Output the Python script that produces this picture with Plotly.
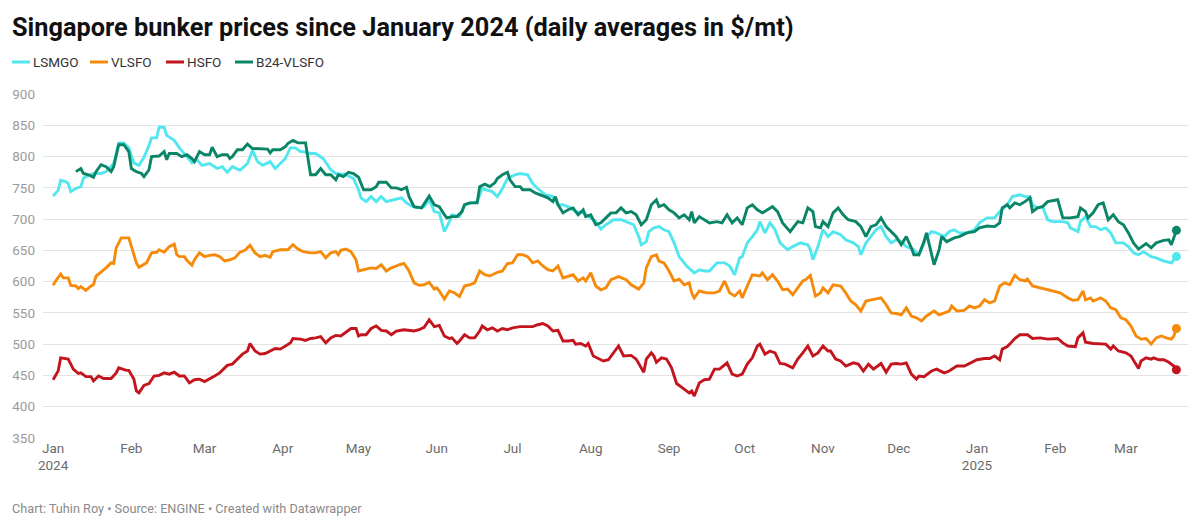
import pandas as pd
import plotly.graph_objects as go

BASE_DATE = "2024-01-01"

# ---- data (day offset from BASE_DATE, value in $/mt) ----
lsmgo_days = [0,2,3,5,6,7,9,11,12,13,16,19,21,24,26,28,30,32,34,36,38,39,41,42,44,45,48,50,53,55,57,59,62,65,67,69,71,74,77,79,81,83,86,88,90,92,94,96,98,
              99,102,104,107,110,112,116,119,121,122,124,126,128,130,132,135,138,140,142,144,147,149,151,153,155,157,158,161,163,166,168,170,172,174,176,178,180,183,185,188,190,192,195,198,200,202,205,207,210,213,215,217,219,222,225,227,230,232,233,235,236,238,240,242,244,246,248,251,254,256,258,260,263,266,268,270,272,273,275,277,279,280,282,284,286,288,291,293,296,299,300,301,303,305,307,309,312,314,317,319,320,322,324,326,328,330,332,334,336,338,341,343,344,346,348,350,353,355,357,359,362,365,367,370,373,375,378,380,383,385,387,388,390,392,394,396,400,402,403,406,407,409,411,413,415,417,419,421,424,426,428,430,432,435,437,440,443,444,445]
lsmgo_vals = [737,746,762,760,757,744,749,752,765,768,773,773,776,789,822,822,814,790,786,799,818,830,830,847,847,834,826,814,800,790,795,786,789,781,784,775,784,778,789,810,792,786,792,781,789,797,814,814,808,
              808,805,805,797,779,773,771,765,747,734,728,736,728,736,728,731,734,726,721,718,720,731,712,710,680,696,707,704,723,726,728,749,747,744,736,749,765,771,773,771,757,749,739,736,723,723,718,712,710,702,696,684,691,699,699,696,691,672,659,664,680,686,688,683,680,662,640,625,614,619,617,617,630,630,625,611,638,640,662,672,683,696,678,694,683,662,651,656,662,659,651,635,656,683,672,680,675,667,662,656,643,662,672,683,688,672,662,667,664,656,651,643,651,672,680,678,672,680,683,678,678,683,694,702,702,712,723,736,739,736,736,723,718,720,699,696,696,694,686,680,696,704,688,688,683,686,678,662,662,656,646,643,648,640,638,633,630,635,640]

vlsfo_days = [0,1,3,4,6,7,9,10,11,13,15,16,17,19,21,23,24,25,27,30,31,33,34,36,37,39,41,42,44,46,48,49,50,52,53,55,56,58,60,62,64,66,68,70,72,74,76,78,80,82,84,86,87,90,93,95,97,99,102,104,106,108,110,112,113,114,116,118,120,121,123,126,128,130,132,134,136,137,139,141,143,145,147,149,151,152,153,155,157,159,161,163,165,167,169,171,173,176,178,180,182,184,186,188,190,192,194,196,198,200,202,204,206,208,210,211,213,215,217,219,221,224,227,229,232,234,235,237,239,240,242,244,246,248,250,252,253,254,256,259,262,264,266,268,270,272,273,275,277,280,281,283,285,287,289,291,293,295,297,298,300,302,304,305,307,309,312,314,316,318,320,322,325,328,330,332,334,336,338,340,342,344,346,349,351,353,355,356,358,361,363,365,367,369,371,373,375,377,379,381,383,385,386,388,391,394,396,399,402,404,406,408,409,411,412,415,417,419,421,423,425,427,429,431,433,435,437,439,441,443,444,445]
vlsfo_vals = [594,601,612,606,606,594,593,589,592,586,593,595,609,615,622,630,629,654,670,670,656,630,623,627,630,646,647,651,647,656,660,643,640,640,634,626,635,646,640,642,643,640,633,635,638,647,650,658,646,640,642,639,648,651,651,659,652,648,646,646,648,638,646,648,643,650,652,648,635,617,619,622,621,627,617,622,625,627,629,617,598,594,595,599,588,590,585,572,585,582,576,593,595,598,617,611,609,615,617,629,630,643,643,640,630,633,625,619,617,625,606,609,611,601,606,601,614,593,587,590,603,608,603,595,588,598,622,640,643,633,630,617,601,604,595,598,582,574,585,582,582,585,601,582,577,585,574,593,611,609,614,603,611,601,587,588,579,590,601,603,610,577,582,590,582,595,593,582,569,563,553,569,571,574,563,550,549,547,558,545,542,537,545,553,547,550,553,561,553,554,561,558,561,571,566,569,593,598,595,610,603,601,604,593,590,587,585,582,574,570,571,585,571,574,569,574,569,558,555,542,539,529,513,508,509,500,510,513,510,508,513,525]

hsfo_days = [0,2,3,6,8,10,11,13,15,16,18,20,23,25,26,29,30,32,33,34,36,38,40,42,44,46,48,50,52,54,56,58,60,62,64,66,68,69,71,73,75,77,78,80,82,84,86,88,90,92,94,95,98,100,102,104,106,108,110,112,114,116,118,120,121,122,124,126,128,130,132,134,136,139,141,143,145,147,149,151,153,155,157,158,160,161,163,165,167,169,170,172,174,176,178,180,182,185,188,190,192,194,196,198,200,202,204,206,207,209,211,212,214,216,218,220,222,224,226,229,231,234,235,237,238,239,241,243,245,247,250,252,253,254,256,258,260,262,264,267,269,271,273,275,277,279,280,282,284,286,288,290,293,295,297,299,301,303,305,307,308,310,312,314,317,319,321,323,325,328,330,332,334,336,338,340,342,343,345,348,350,353,355,358,361,363,366,369,371,373,375,376,378,379,381,383,386,388,391,394,396,398,400,402,405,406,408,409,412,415,417,419,420,422,425,427,429,430,431,433,435,436,438,440,442,444,445]
hsfo_vals = [443,457,478,476,460,453,454,448,448,441,449,445,445,454,462,458,458,444,425,422,434,437,449,450,454,452,455,449,449,438,443,444,440,444,449,454,462,466,468,476,484,489,501,489,484,485,489,493,492,497,502,509,508,506,509,510,512,502,510,514,513,519,525,525,513,515,515,525,529,522,521,515,521,523,522,521,523,527,539,528,530,513,509,510,501,505,515,510,510,521,529,523,526,521,525,523,526,528,528,528,531,533,529,521,522,505,505,506,500,501,497,501,481,477,473,475,486,497,481,482,476,455,476,486,481,471,478,476,462,437,428,422,425,417,438,443,444,460,460,470,452,449,452,468,478,497,500,484,489,486,469,468,462,476,486,497,481,486,497,489,489,476,473,465,470,468,457,468,460,469,455,468,469,468,470,452,444,449,448,457,460,454,457,465,465,469,475,477,477,481,475,492,496,500,509,515,515,509,510,508,508,509,502,497,496,510,518,503,501,501,500,492,497,489,486,481,468,461,473,478,476,478,475,475,471,465,459]

b24_days = [9,11,12,14,16,17,19,21,23,24,26,28,30,31,33,35,36,38,39,42,44,45,46,49,51,53,55,56,58,60,62,63,65,67,69,70,71,73,75,77,79,82,85,86,87,90,92,93,95,97,100,102,104,106,108,110,112,113,115,117,119,121,123,126,128,129,132,134,136,138,140,141,143,146,148,149,151,153,155,156,158,160,162,163,165,168,169,171,173,175,176,178,180,181,183,185,186,189,191,193,196,198,199,200,202,204,206,208,210,211,213,215,217,219,221,223,225,227,229,231,233,235,237,239,240,242,244,246,248,250,252,253,254,256,258,260,263,265,267,269,271,273,275,277,279,281,283,285,287,289,292,295,297,299,301,302,304,305,307,309,311,313,315,318,320,322,324,326,328,330,332,334,336,338,340,341,343,345,346,347,349,351,352,354,357,359,362,365,367,370,373,375,376,378,379,381,383,385,387,388,390,392,394,398,399,400,403,406,407,409,410,412,414,416,418,420,422,424,426,428,430,433,435,437,440,442,443,445]
b24_vals = [776,781,773,771,767,776,787,784,776,784,819,819,808,781,776,773,768,779,800,801,808,795,805,805,800,803,797,792,808,803,803,815,800,803,803,797,800,811,811,820,813,812,812,806,811,811,816,821,826,822,822,771,771,781,771,771,763,771,768,775,773,767,747,747,752,759,759,750,750,747,751,736,720,718,731,737,723,720,707,702,704,704,712,723,726,726,752,756,752,758,765,771,775,763,752,752,747,747,742,739,734,728,736,723,710,715,718,707,715,704,707,691,694,702,710,710,718,710,712,707,691,699,723,731,720,723,715,710,702,707,699,712,694,704,699,694,696,694,707,694,702,691,718,723,715,710,715,720,712,694,680,696,694,718,712,688,686,696,688,710,718,707,699,696,688,672,688,691,702,688,680,672,659,672,654,643,643,664,678,662,627,651,672,664,670,672,678,680,686,689,688,694,718,723,718,726,723,728,734,712,718,720,728,731,718,702,702,704,718,712,702,710,723,726,699,707,696,691,678,662,652,661,654,662,666,667,659,682]

series_names = ["LSMGO", "VLSFO", "HSFO", "B24-VLSFO"]
series_colors = ["#52e6ee", "#f68b0b", "#c3151d", "#0b8567"]
series_days = [lsmgo_days, vlsfo_days, hsfo_days, b24_days]
series_vals = [lsmgo_vals, vlsfo_vals, hsfo_vals, b24_vals]

tick_dates = ["2024-01-01", "2024-02-01", "2024-03-01", "2024-04-01", "2024-05-01", "2024-06-01",
              "2024-07-01", "2024-08-01", "2024-09-01", "2024-10-01", "2024-11-01", "2024-12-01",
              "2025-01-01", "2025-02-01", "2025-03-01"]
tick_labels = ["Jan<br>2024", "Feb", "Mar", "Apr", "May", "Jun", "Jul", "Aug", "Sep", "Oct",
               "Nov", "Dec", "Jan<br>2025", "Feb", "Mar"]
y_ticks = [350, 400, 450, 500, 550, 600, 650, 700, 750, 800, 850, 900]

TITLE = "Singapore bunker prices since January 2024 (daily averages in $/mt)"
FOOTER = "Chart: Tuhin Roy • Source: ENGINE • Created with Datawrapper"

# ---- layout geometry (page pixels; the page body adds an 8px offset) ----
OFF = 8
W, H = 1200 - OFF, 528 - OFF
ML, MR, MT, MB = 43 - OFF, 12, 94 - OFF, 90
PW, PH = W - ML - MR, H - MT - MB


def px(x):
    return (x - OFF - ML) / PW


def py(y):
    return (H - MB - (y - OFF)) / PH


base = pd.Timestamp(BASE_DATE)
fig = go.Figure()
for name, color, days, vals in zip(series_names, series_colors, series_days, series_vals):
    dates = [base + pd.Timedelta(days=d) for d in days]
    fig.add_trace(go.Scatter(x=dates, y=vals, mode="lines", name=name,
                             line=dict(color=color, width=2.9), showlegend=False,
                             hoverinfo="skip"))
for name, color, days, vals in zip(series_names, series_colors, series_days, series_vals):
    fig.add_trace(go.Scatter(x=[base + pd.Timedelta(days=days[-1])], y=[vals[-1]], mode="markers",
                             marker=dict(color=color, size=9), showlegend=False, hoverinfo="skip"))

# custom legend (short line keys as in the original)
legend_x = [12, 90, 166, 235]
shapes = []
annotations = []
for lx, name, color in zip(legend_x, series_names, series_colors):
    shapes.append(dict(type="line", xref="paper", yref="paper", x0=px(lx), x1=px(lx + 18),
                       y0=py(62), y1=py(62), line=dict(color=color, width=3)))
    annotations.append(dict(xref="paper", yref="paper", x=px(lx + 19), y=py(62), text=name,
                            showarrow=False, xanchor="left", yanchor="middle",
                            font=dict(family="Roboto", size=13.5, color="#333333")))

annotations.append(dict(xref="paper", yref="paper", x=px(10), y=py(27), text="<b>" + TITLE + "</b>",
                        showarrow=False, xanchor="left", yanchor="middle",
                        font=dict(family="Roboto", size=25.3, color="#111111")))
annotations.append(dict(xref="paper", yref="paper", x=px(10), y=py(508), text=FOOTER,
                        showarrow=False, xanchor="left", yanchor="middle",
                        font=dict(family="Roboto", size=12.7, color="#8a8a8a")))

x_start = base + pd.Timedelta(days=-4)
x_end = base + pd.Timedelta(days=449.6)

fig.update_layout(
    width=W, height=H,
    margin=dict(l=ML, r=MR, t=MT, b=MB, autoexpand=False),
    paper_bgcolor="white", plot_bgcolor="white",
    shapes=shapes, annotations=annotations,
    font=dict(family="Roboto"),
    xaxis=dict(range=[x_start, x_end], tickmode="array", tickvals=tick_dates, ticktext=tick_labels,
               showgrid=False, zeroline=False, showline=False, ticks="", automargin=False,
               tickfont=dict(family="Roboto", size=13.5, color="#6b6b6b")),
    yaxis=dict(range=[349.8, 900.2], tickmode="array", tickvals=y_ticks,
               showgrid=True, gridcolor="#e3e3e3", gridwidth=1, zeroline=False, showline=False,
               ticks="", ticklabelstandoff=7, automargin=False,
               tickfont=dict(family="Roboto", size=13.5, color="#9b9b9b")),
)

fig.write_html("out.html")
